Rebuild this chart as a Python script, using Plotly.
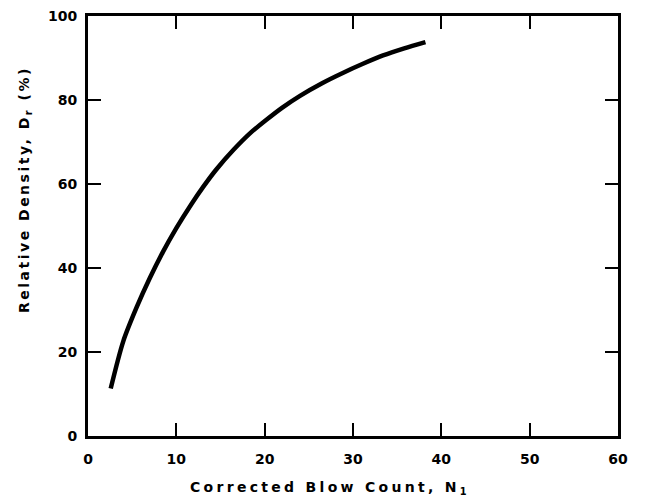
import plotly.graph_objects as go

# Curve
blow_count = [2.57, 4.0, 5.5, 7.0, 8.5, 10.0, 11.7, 13.0, 14.5, 16.5, 18.3, 20.2, 22.0, 24.0, 26.5, 28.9, 31.0, 33.4, 35.8, 38.2]
rel_density = [11.3, 22.6, 30.6, 37.6, 43.9, 49.5, 55.2, 59.2, 63.4, 68.2, 72.0, 75.3, 78.2, 81.0, 84.0, 86.5, 88.5, 90.6, 92.3, 93.8]

x_ticks = [0, 10, 20, 30, 40, 50, 60]
y_ticks = [0, 20, 40, 60, 80, 100]

FONT = "DejaVu Sans"

# page body has an 8px default margin; compensate so plot area lands at 88..618 x 16..436
W, H = 638, 491
L, R, T, B = 80, 28, 8, 63
px0, py0, pw, ph = 88, 16, 530, 420

fig = go.Figure()
fig.add_trace(go.Scatter(
    x=blow_count, y=rel_density, mode="lines",
    line=dict(color="black", width=4.5, shape="spline", smoothing=0.8),
    showlegend=False, hoverinfo="skip",
))

axis_common = dict(
    showgrid=False, zeroline=False, automargin=False,
    showline=True, linecolor="black", linewidth=3,
    mirror="ticks", ticks="inside", ticklen=13, tickwidth=2, tickcolor="black",
    tickfont=dict(family=FONT, size=14, color="black", weight="bold"),
    ticklabeloverflow="allow",
)

fig.update_xaxes(range=[0, 60], tickvals=x_ticks, ticktext=[str(v) for v in x_ticks],
                 ticklabelstandoff=8, **axis_common)
fig.update_yaxes(range=[0, 100], tickvals=y_ticks, ticktext=[str(v) for v in y_ticks],
                 ticklabelstandoff=5, **axis_common)

def px_to_paper_x(x):
    return (x - px0) / pw

def px_to_paper_y(y):
    return (py0 + ph - y) / ph

fig.update_layout(
    width=W, height=H,
    margin=dict(l=L, r=R, t=T, b=B),
    plot_bgcolor="white", paper_bgcolor="white",
    annotations=[
        dict(text='<span style="letter-spacing:3.3px">Corrected Blow Count, N<sub>1</sub></span>',
             xref="paper", yref="paper",
             x=px_to_paper_x(330), y=px_to_paper_y(487.7), xanchor="center", yanchor="middle",
             showarrow=False, font=dict(family=FONT, size=14, color="black", weight="bold")),
        dict(text='<span style="letter-spacing:2.5px">Relative Density, D<sub>r</sub> (%)</span>',
             xref="paper", yref="paper",
             x=px_to_paper_x(25), y=px_to_paper_y(190), xanchor="center", yanchor="middle",
             textangle=-90, showarrow=False,
             font=dict(family=FONT, size=14, color="black", weight="bold")),
    ],
)

fig.write_html("out.html")
